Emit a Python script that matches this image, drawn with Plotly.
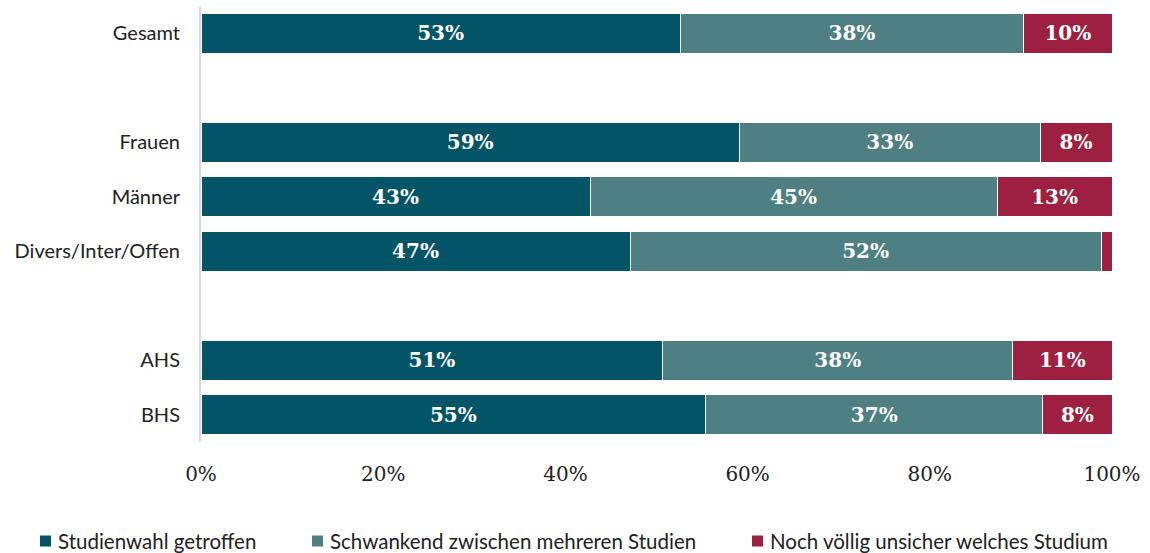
import plotly.graph_objects as go

# ---- data ----
categories = ["Gesamt", "Frauen", "Männer", "Divers/Inter/Offen", "AHS", "BHS"]
category_order = ["Gesamt", " ", "Frauen", "Männer", "Divers/Inter/Offen", "  ", "AHS", "BHS"]
series_names = ["Studienwahl getroffen",
                "Schwankend zwischen mehreren Studien",
                "Noch völlig unsicher welches Studium"]
getroffen = [52.6, 59.1, 42.7, 47.1, 50.7, 55.4]
schwankend = [37.7, 33.0, 44.7, 51.7, 38.4, 37.0]
unsicher = [9.7, 7.9, 12.6, 1.2, 10.9, 7.6]
tick_values = [0, 20, 40, 60, 80, 100]
tick_labels = ["0%", "20%", "40%", "60%", "80%", "100%"]

colors = ["#045468", "#4E7F82", "#9E2040"]
series_values = [getroffen, schwankend, unsicher]

fig = go.Figure()
for name, vals, col in zip(series_names, series_values, colors):
    labels = [f"{round(v)}%" if v >= 3 else "" for v in vals]
    fig.add_trace(go.Bar(
        y=categories, x=vals, name=name, orientation="h",
        marker=dict(color=col, line=dict(color="white", width=1)),
        text=labels, textposition="inside", insidetextanchor="middle",
        textangle=0,
        textfont=dict(family="DejaVu Serif", size=20, color="white", weight="bold"),
        showlegend=False, hoverinfo="skip",
    ))

L, R, T, B = 201, 38, 6, 111
W, H = 1150, 553
pw, ph = W - L - R, H - T - B

fig.update_layout(
    barmode="stack", bargap=0.267,
    width=W, height=H,
    margin=dict(l=L, r=R, t=T, b=B, autoexpand=False),
    plot_bgcolor="white", paper_bgcolor="white",
    uniformtext=dict(mode="show", minsize=10),
    xaxis=dict(range=[0, 100], tickvals=tick_values, ticktext=tick_labels,
               showgrid=False, zeroline=False, showline=False,
               ticks="outside", ticklen=14, tickcolor="rgba(0,0,0,0)",
               tickfont=dict(family="DejaVu Serif", size=20, color="#222222")),
    yaxis=dict(categoryorder="array", categoryarray=category_order,
               autorange="reversed", showgrid=False, zeroline=False,
               showline=True, linecolor="#D9D9D9", linewidth=2,
               ticks="", ticklabelstandoff=15,
               tickfont=dict(family="Lato", size=20, color="#222222")),
)

# legend drawn as text + colored squares
leg_x_px = [40, 312, 752]
leg_y_px = 541
sq = 11
for name, col, xp in zip(series_names, colors, leg_x_px):
    x0 = (xp - L) / pw
    x1 = (xp + sq - L) / pw
    y0 = (H - B - (leg_y_px + sq / 2)) / ph
    y1 = (H - B - (leg_y_px - sq / 2)) / ph
    fig.add_shape(type="rect", xref="paper", yref="paper",
                  x0=x0, x1=x1, y0=y0, y1=y1,
                  fillcolor=col, line=dict(width=0))
    fig.add_annotation(xref="paper", yref="paper",
                       x=(xp + sq + 5 - L) / pw, y=(H - B - leg_y_px) / ph,
                       xanchor="left", yanchor="middle", showarrow=False,
                       text=name,
                       font=dict(family="Lato", size=20.5, color="#222222"))

fig.write_html("out.html", config={"displayModeBar": False},
               post_script="document.body.style.margin='0';document.body.style.overflow='hidden';")
